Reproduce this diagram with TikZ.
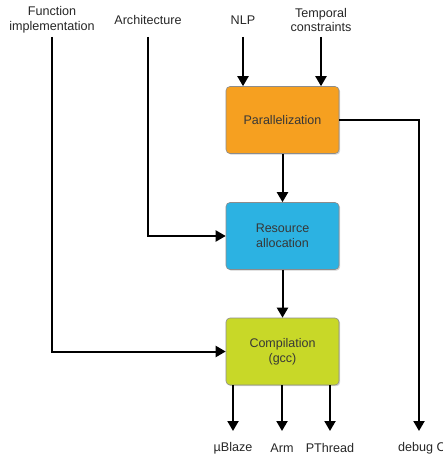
\documentclass[tikz,border=0pt]{standalone}
\usepackage{fontspec}
\setmainfont{Liberation Sans}
\usepackage{tikz}
\usetikzlibrary{arrows.meta,calc,positioning,shadows}

\definecolor{parorange}{RGB}{246,160,32}
\definecolor{resblue}{RGB}{44,178,226}
\definecolor{complime}{RGB}{200,216,40}
\definecolor{boxtext}{RGB}{55,55,55}

\begin{document}
\begin{tikzpicture}[x=1pt, y=-1pt,
		box/.style={draw=black!45, line width=0.6pt, rounded corners=4pt, minimum width=113pt, minimum height=67pt, align=center, text=boxtext, font=\fontsize{12.5}{14.8}\selectfont, drop shadow={shadow xshift=1.2pt, shadow yshift=-1.2pt, opacity=0.35}},
		lbl/.style={align=center, inner sep=1pt, text=black!85, font=\fontsize{12.6}{14.8}\selectfont},
		arr/.style={-{Triangle[length=10pt, width=11pt]}, line width=2pt}]
			\useasboundingbox (0,0) rectangle (443,457);
			% inputs
			\node[lbl] (fun) at (52,20) {Function\\implementation};
			\node[lbl] (arch) at (148,20) {Architecture};
			\node[lbl] (nlp) at (243,20) {NLP};
			\node[lbl] (temp) at (321,20) {Temporal\\constraints};
			\coordinate (top) at (0,37);
			\coordinate (bot) at (0,431);
			% steps
			\node[box, fill=parorange] (par) at (282.5,120) {Parallelization};
			\node[box, fill=resblue] (res) at (282.5,236) {Resource\\allocation};
			\node[box, fill=complime] (comp) at (282.5,351.5) {Compilation\\(gcc)};
			% outputs
			\node[lbl] (mb) at (233,448) {µBlaze};
			\node[lbl] (arm) at (282,448) {Arm};
			\node[lbl] (pth) at (330,448) {PThread};
			\node[lbl, anchor=west] (dbg) at (397,448) {debug C};
			\coordinate (dbgx) at (419,0);
			% flow
			\draw[arr] (nlp |- top) -- (nlp |- par.north);
			\draw[arr] (temp |- top) -- (temp |- par.north);
			\draw[arr] (par.south) -- (res.north);
			\draw[arr] (res.south) -- (comp.north);
			\draw[arr] (arch |- top) |- (res.west);
			\draw[arr] (fun |- top) |- (comp.west);
			\draw[arr] (mb |- comp.south) -- (mb |- bot);
			\draw[arr] (arm |- comp.south) -- (arm |- bot);
			\draw[arr] (pth |- comp.south) -- (pth |- bot);
			\draw[arr] (par.east) -| (dbgx |- bot);
		\end{tikzpicture}
\end{document}
